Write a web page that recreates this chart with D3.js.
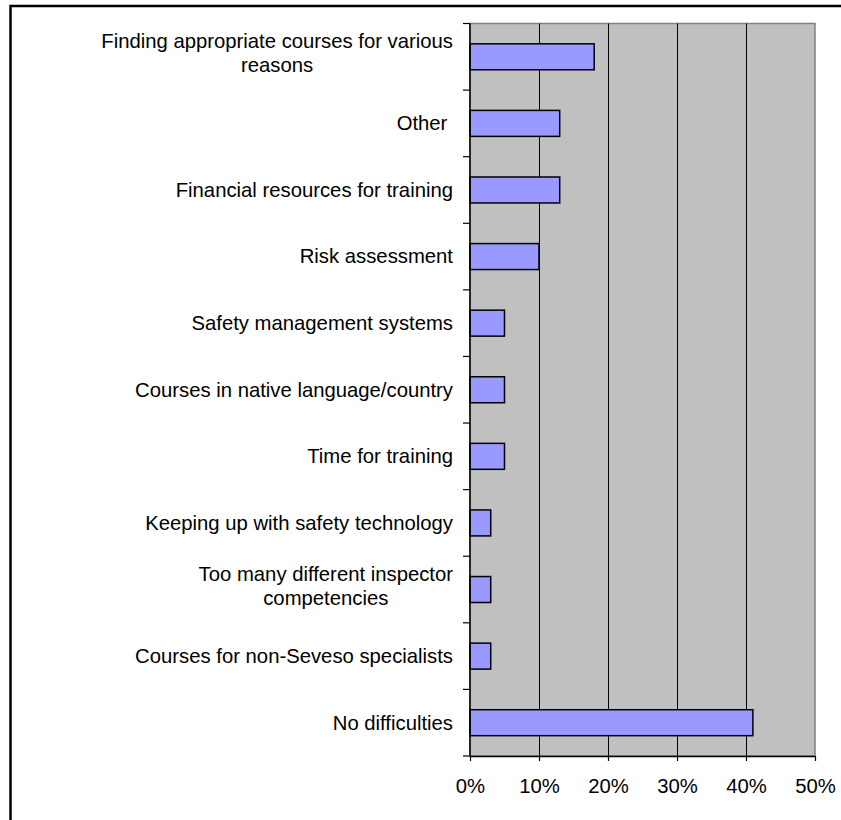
<!DOCTYPE html>
<html>
<head>
<meta charset="utf-8">
<script src="https://cdn.jsdelivr.net/npm/d3@7"></script>
<style>
  html, body { margin: 0; padding: 0; background: #fff; }
  svg { display: block; font-family: "Liberation Sans", Arial, sans-serif; }
</style>
</head>
<body>
<svg id="chart" width="841" height="820"></svg>
<script>
// Training difficulties reported (share of respondents)
const categories = [
  "Finding appropriate courses for various reasons",
  "Other ",
  "Financial resources for training",
  "Risk assessment",
  "Safety management systems",
  "Courses in native language/country",
  "Time for training",
  "Keeping up with safety technology",
  "Too many different inspector competencies",
  "Courses for non-Seveso specialists",
  "No difficulties"
];
const shares = [18, 13, 13, 10, 5, 5, 5, 3, 3, 3, 41];
const xTicks = [0, 10, 20, 30, 40, 50];

const svg = d3.select("#chart");
const plot = { left: 470, right: 815, top: 23.5, bottom: 756 };
const fontSize = 20.3;

// outer frame
svg.append("rect")
  .attr("x", 10.5).attr("y", 6)
  .attr("width", 850).attr("height", 850)
  .attr("fill", "none").attr("stroke", "#000").attr("stroke-width", 2.5);

const x = d3.scaleLinear().domain([0, 50]).range([plot.left, plot.right]);
const y = d3.scaleBand().domain(categories).range([plot.top, plot.bottom])
  .paddingInner(0.61).paddingOuter(0.305);
const yBand = d3.scaleBand().domain(categories).range([plot.top, plot.bottom]);

// plot background
svg.append("rect")
  .attr("x", plot.left).attr("y", plot.top)
  .attr("width", plot.right - plot.left).attr("height", plot.bottom - plot.top)
  .attr("fill", "#c0c0c0").attr("stroke", "#808080").attr("stroke-width", 1.5);

// vertical gridlines
svg.append("g").selectAll("line")
  .data(xTicks.slice(1, -1))
  .join("line")
  .attr("x1", d => Math.round(x(d)) + 0.5).attr("x2", d => Math.round(x(d)) + 0.5)
  .attr("y1", plot.top).attr("y2", plot.bottom)
  .attr("stroke", "#000").attr("stroke-width", 1);

// bars
svg.append("g").selectAll("rect")
  .data(categories.map((c, i) => ({ c, v: shares[i] })))
  .join("rect")
  .attr("x", x(0))
  .attr("y", d => y(d.c))
  .attr("width", d => x(d.v) - x(0))
  .attr("height", y.bandwidth())
  .attr("fill", "#9999ff")
  .attr("stroke", "#000").attr("stroke-width", 1.5);

// x axis
const xAxis = svg.append("g")
  .attr("transform", `translate(0,${plot.bottom})`)
  .call(d3.axisBottom(x).tickValues(xTicks).tickFormat(d => d + "%").tickSizeInner(5).tickSizeOuter(0).tickPadding(17.5));
xAxis.select(".domain").attr("stroke", "#000").attr("stroke-width", 1.5);
xAxis.selectAll(".tick line").attr("stroke", "#000").attr("stroke-width", 1.2);
xAxis.selectAll("text").attr("font-size", fontSize).attr("fill", "#000")
  .attr("font-family", "Liberation Sans, Arial, sans-serif");

// y axis: ticks on category boundaries
const boundaries = d3.range(categories.length + 1).map(i => plot.top + i * yBand.step());
const yAxisG = svg.append("g");
yAxisG.append("line")
  .attr("x1", plot.left).attr("x2", plot.left)
  .attr("y1", plot.top).attr("y2", plot.bottom)
  .attr("stroke", "#000").attr("stroke-width", 1.5);
yAxisG.selectAll("line.tk")
  .data(boundaries)
  .join("line").attr("class", "tk")
  .attr("x1", plot.left - 7).attr("x2", plot.left)
  .attr("y1", d => d).attr("y2", d => d)
  .attr("stroke", "#000").attr("stroke-width", 1.2);

// category labels, wrapped and centred on each band
const labelRight = 453;
const maxWidth = 365;
const lineHeight = 23.7;
categories.forEach(c => {
  const cy = yBand(c) + yBand.bandwidth() / 2;
  const t = svg.append("text")
    .attr("text-anchor", "middle")
    .attr("font-size", fontSize).attr("fill", "#000")
    .style("white-space", "pre");
  // measure and wrap
  const words = c.split(" ");
  const lines = [];
  let cur = "";
  const probe = svg.append("text").attr("font-size", fontSize).style("white-space", "pre");
  words.forEach(w => {
    const trial = cur ? cur + " " + w : w;
    probe.text(trial);
    if (cur && probe.node().getComputedTextLength() > maxWidth) {
      lines.push(cur);
      cur = w;
    } else {
      cur = trial;
    }
  });
  lines.push(cur);
  let widest = 0;
  lines.forEach(l => { probe.text(l); widest = Math.max(widest, probe.node().getComputedTextLength()); });
  probe.remove();
  const centerX = labelRight - widest / 2;
  const n = lines.length;
  const baseShift = n > 1 ? 3.2 : 6.8;
  lines.forEach((l, i) => {
    t.append("tspan")
      .attr("x", centerX)
      .attr("y", cy + (i - (n - 1) / 2) * lineHeight + baseShift)
      .text(l);
  });
});
</script>
</body>
</html>
